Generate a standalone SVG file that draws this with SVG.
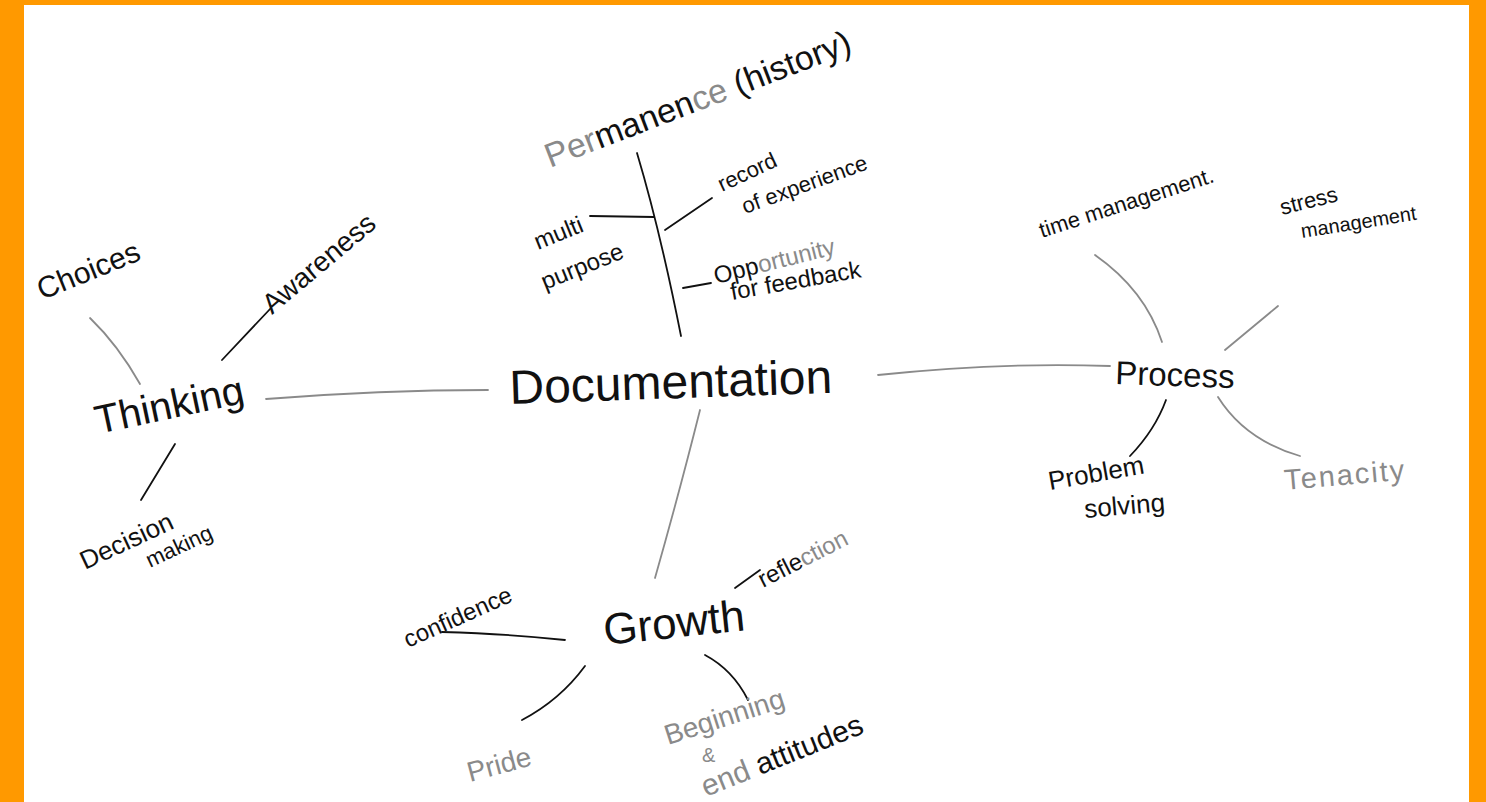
<svg xmlns="http://www.w3.org/2000/svg" width="1486" height="802" viewBox="0 0 1486 802">
<style>
text{font-family:"Liberation Sans","DejaVu Sans",sans-serif;fill:#111}
.g{fill:#8a8a8a}
.c{fill:none;stroke-linecap:round;stroke-width:1.8}
.k{stroke:#111}
.l{stroke:#8a8a8a}
</style>
<rect x="0" y="0" width="1486" height="802" fill="#ffffff"/>
<path d="M0 0H1486V802H1469V5H24V802H0Z" fill="#ff9900"/>
<g id="connectors">
<path class="c l" d="M266 399 Q380 390 488 390"/>
<path class="c l" d="M878 375 Q1000 362 1110 366"/>
<path class="c l" d="M700 410 Q680 490 655 578"/>
<path class="c k" d="M637 153 Q660 230 681 336"/>
<path class="c k" d="M590 216 L654 217"/>
<path class="c k" d="M665 230 L712 198"/>
<path class="c k" d="M683 288 L711 283"/>
<path class="c l" d="M90 318 Q118 345 140 384"/>
<path class="c k" d="M222 360 L271 308"/>
<path class="c k" d="M175 444 L141 500"/>
<path class="c l" d="M1095 255 Q1145 290 1162 342"/>
<path class="c l" d="M1225 350 L1278 306"/>
<path class="c k" d="M1166 400 Q1155 430 1130 456"/>
<path class="c l" d="M1218 397 Q1245 440 1300 456"/>
<path class="c k" d="M735 588 L760 570"/>
<path class="c k" d="M442 632 Q510 634 565 640"/>
<path class="c k" d="M585 666 Q560 700 522 720"/>
<path class="c k" d="M705 655 Q733 670 748 700"/>
</g>
<g id="documentation"><text x="510" y="404" font-size="48" transform="rotate(-2 510 404)">Documentation</text></g>
<g id="permanence"><text x="550" y="168" font-size="34" transform="rotate(-21 550 168)"><tspan class="g">Per</tspan>manen<tspan class="g">ce</tspan> (history)</text></g>
<g id="multi-purpose"><text x="538" y="250" font-size="24" transform="rotate(-22 538 250)">multi</text><text x="545" y="290" font-size="24" transform="rotate(-22 545 290)">purpose</text></g>
<g id="record"><text x="722" y="192" font-size="22" transform="rotate(-25 722 192)">record</text><text x="745" y="214" font-size="22" transform="rotate(-20 745 214)">of experience</text></g>
<g id="opportunity"><text x="716" y="284" font-size="24" transform="rotate(-14 716 284)">Opp<tspan class="g">ortunity</tspan></text><text x="732" y="300" font-size="24" transform="rotate(-10 732 300)">for feedback</text></g>
<g id="thinking"><text x="98" y="434" font-size="40" transform="rotate(-12 98 434)">Thinking</text></g>
<g id="choices"><text x="42" y="300" font-size="30" transform="rotate(-22 42 300)">Choices</text></g>
<g id="awareness"><text x="272" y="315" font-size="28" transform="rotate(-40 272 315)">Awareness</text></g>
<g id="decision"><text x="85" y="570" font-size="26" transform="rotate(-25 85 570)">Decision</text><text x="150" y="568" font-size="22" transform="rotate(-25 150 568)">making</text></g>
<g id="process"><text x="1115" y="384" font-size="33" transform="rotate(2 1115 384)">Process</text></g>
<g id="time-management"><text x="1042" y="238" font-size="22" transform="rotate(-18 1042 238)">time management.</text></g>
<g id="stress-management"><text x="1282" y="215" font-size="22" transform="rotate(-14 1282 215)">stress</text><text x="1302" y="238" font-size="20" transform="rotate(-9 1302 238)">management</text></g>
<g id="problem-solving"><text x="1050" y="490" font-size="26" transform="rotate(-10 1050 490)">Problem</text><text x="1085" y="518" font-size="26" transform="rotate(-5 1085 518)">solving</text></g>
<g id="tenacity"><text x="1285" y="490" font-size="29" class="g" letter-spacing="2" transform="rotate(-5 1285 490)">Tenacity</text></g>
<g id="growth"><text x="605" y="645" font-size="44" transform="rotate(-6 605 645)">Growth</text></g>
<g id="reflection"><text x="763" y="588" font-size="24" transform="rotate(-27 763 588)">refle<tspan class="g">ction</tspan></text></g>
<g id="confidence"><text x="408" y="648" font-size="24" transform="rotate(-24 408 648)">confidence</text></g>
<g id="pride"><text x="470" y="782" font-size="28" class="g" transform="rotate(-15 470 782)">Pride</text></g>
<g id="beginning"><text x="668" y="745" font-size="28" class="g" transform="rotate(-18 668 745)">Beginning</text><text x="702" y="762" font-size="20" class="g">&amp;</text><text x="706" y="797" font-size="30" transform="rotate(-22 706 797)"><tspan class="g">end</tspan>  attitudes</text></g>
</svg>
